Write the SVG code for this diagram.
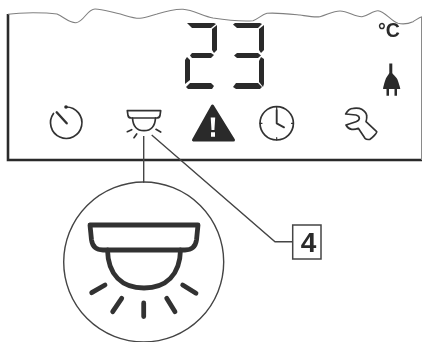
<svg xmlns="http://www.w3.org/2000/svg" width="422" height="342" viewBox="0 0 422 342">
<style>
.l{fill:none;stroke:#333;stroke-linecap:round;stroke-linejoin:round}
.i{stroke-width:1.7}
.s{fill:#2b2b2b}
.c{fill:none;stroke:#444;stroke-width:1.4}
.b{fill:none;stroke:#333;stroke-width:4.8;stroke-linecap:round;stroke-linejoin:round}
.soft{filter:url(#soft)}
</style>
<defs>
<filter id="soft" x="0" y="0" width="100%" height="100%" filterUnits="userSpaceOnUse"><feGaussianBlur stdDeviation="0.35"/></filter>
<g id="lampSmall">
<path class="l i" d="M127.300 110.700H160.700L160 115.500Q159.500 118 156.500 118H131.500Q128.500 118 128 115.500Z"/>
<path class="l i" d="M132.500 118C133 126 137 130.700 144 130.700C151 130.700 155 126 155.500 118"/>
<path class="l i" d="M127.300 131.700L131.700 129.700M134 137.700L136.700 134M156 129.300L160.700 132"/>
</g>
</defs>
<rect width="422" height="342" fill="#fff"/>
<g class="soft">
<g id="panel">
<path d="M8 14V160H422" fill="none" stroke="#2b2b2b" stroke-width="2.600"/>
<path d="M421.500 17V160" fill="none" stroke="#8a8a8a" stroke-width="1"/>
<path d="M8 14.300C16 13 25 12.700 33 12.700C42 12.700 50 13 57 14C64 17 69 23 76 22.700C84 22 87 9 95 9C103 9 110 12 117 13.300C125 15 132 18.500 140 18.300C146 18 151 15.500 157 14C165 11.500 175 9 183 9.300C193 10 203 16 213 18C226 20 241 21.500 253 20.700C258 19 262 14.500 267 13.300C277 12.500 290 14 300 15C307 16 314 17.500 320 16.700C327 15 333 11 340 11C348 11 355 17 362 16.700C368 16 373 10.500 378 10.700C385 11.500 391 21 398 23.300C404 24.500 409 23.500 413 21.700C416 20 419 17.500 422 16.700" fill="none" stroke="#808080" stroke-width="1.100"/>
</g>
<g id="display">
<path class="s" d="M187 23H214L216 24L211 28H192Z"/>
<path class="s" d="M217 25V50L214 53L212 50V29Z"/>
<path class="s" d="M190 55.500L192 53H211L214 55L211 58H192Z"/>
<path class="s" d="M185 84V60L187 57L190 60V80Z"/>
<path class="s" d="M186 87L190 83H211L214 86L212 89H188Z"/>
<path class="s" d="M233 24.500L235 23H260L262 24L258 28H237Z"/>
<path class="s" d="M264 25V50L261 53L259 50V29Z"/>
<path class="s" d="M234 55.500L237 53H258L261 55.500L258 58H237Z"/>
<path class="s" d="M264 59V84L263 87L259 82V61L261 57Z"/>
<path class="s" d="M233 87L236 83H258L262 87L260 89H236Z"/>
</g>
<g id="unit">
<text x="378" y="37.300" font-family="Liberation Sans, sans-serif" font-weight="700" font-size="19.500" fill="#2b2b2b">°C</text>
</g>
<g id="plug">
<path class="s" d="M389.300 63.500H392.300V73C393 75 397 77 398 81C399 84 400 87 400.300 89H383C383.300 87 384 84 385 81C386 77 388.600 75 389.300 73Z"/>
<path class="s" d="M386.500 89H389V95.700H386.500ZM394.500 89H397V95.700H394.500Z"/>
</g>
<g id="timer">
<path class="l i" d="M66.300 107A15.700 15.700 0 1 1 53.500 113.500"/>
<circle class="s" cx="66" cy="107" r="1.800"/>
<path class="l" stroke-width="2.400" d="M56.700 112.300L66.700 123.300"/>
</g>
<g id="lamp">
<use href="#lampSmall"/>
</g>
<g id="warning">
<path class="s" stroke="#2b2b2b" stroke-width="3" stroke-linejoin="round" d="M212.500 106L193.500 140H233.500Z"/>
<path fill="#fff" d="M210.700 117.500H215.200L214.400 130H211.500ZM211 132.300H215V136.800H211Z"/>
</g>
<g id="clock">
<circle class="l i" cx="276.700" cy="123.300" r="16.700"/>
<path class="l" stroke-width="1.900" d="M276.700 110V123.300L284 127.300"/>
<path class="l" stroke-width="1.200" d="M276.700 107V109M276.700 137.700V140M260 123.300H262M291.500 123.300H293.400"/>
</g>
<g id="wrench">
<path class="l i" d="M345.700 114C347.500 110.500 350 108.300 353.300 108.300C356 108 359.500 108 361.700 109.300C364.500 111 366.700 113 366.700 116C367 118 366.500 120 366 121.700L376.700 131.700C377 133 372.500 137.500 370 139.300C368 139.700 366 139.300 365 138.300L358.300 128.300C356 129.300 354 129.700 351.700 129.300C349 128.800 347 127 346 125L356 121.700C358 121 359.300 120 359.300 118.300C359.300 116.500 358 115.500 356 115Z"/>
</g>
<g id="connectors">
<path class="c" d="M143.700 136V182.700"/>
<path class="c" d="M151.700 135L275 241.700H292.700"/>
</g>
<g id="callout">
<circle cx="143.700" cy="262" r="80" fill="none" stroke="#444" stroke-width="1.400"/>
<path class="b" d="M90 225H198L196.500 240Q195 250 185 250H103Q93 250 91.500 240Z"/>
<path class="b" d="M107.500 250C108 275 122 288 144 288C166 288 180 275 180.500 250"/>
<path class="b" d="M91.700 292.700L105 285M112.700 311.700L121.700 298.300M143.700 303V316.500M166.700 298.300L175 311.700M182.700 285L196 293.300"/>
</g>
<g id="label4">
<rect x="292.700" y="225" width="28.300" height="34" fill="#fff" stroke="#444" stroke-width="1.500"/>
<text x="308.500" y="251.700" text-anchor="middle" font-family="Liberation Sans, sans-serif" font-weight="700" font-size="28" fill="#2b2b2b">4</text>
</g>
</g>
</svg>
